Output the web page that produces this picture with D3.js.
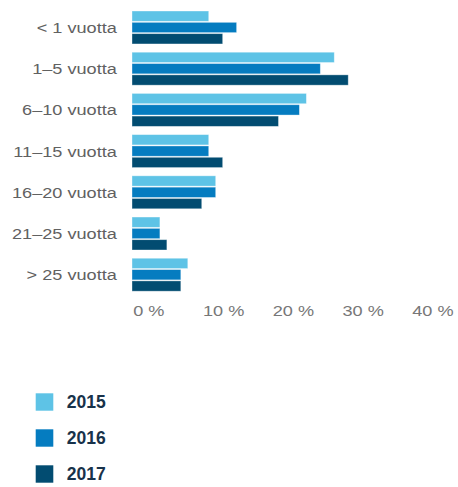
<!DOCTYPE html>
<html>
<head>
<meta charset="utf-8">
<script src="https://cdnjs.cloudflare.com/ajax/libs/d3/7.8.5/d3.min.js"></script>
<style>
  body { margin: 0; background: #fff; }
  svg { display: block; }
</style>
</head>
<body>
<svg id="chart"></svg>
<script>
// Työsuhteen kesto, osuus henkilöstöstä (%)
const categories = ["< 1 vuotta", "1–5 vuotta", "6–10 vuotta", "11–15 vuotta", "16–20 vuotta", "21–25 vuotta", "> 25 vuotta"];
const years = ["2015", "2016", "2017"];
const values2015 = [11, 29, 25, 11, 12, 4, 8];
const values2016 = [15, 27, 24, 11, 12, 4, 7];
const values2017 = [13, 31, 21, 13, 10, 5, 7];
const xTicks = [0, 10, 20, 30, 40];
const colors = ["#5ec3e6", "#057cc0", "#024c71"];

const width = 458, height = 487;
const margin = {top: 11, left: 132};
const stretch = 1.21; // the source font is set wide

// build rows for grouped bars
const data = categories.map((c, i) => ({
  group: c,
  "2015": values2015[i],
  "2016": values2016[i],
  "2017": values2017[i]
}));

const svg = d3.select("#chart")
  .attr("width", width)
  .attr("height", height);

// scales
const x = d3.scaleLinear()
  .domain([0, 40])
  .range([margin.left, margin.left + 279]);

const y = d3.scaleBand()
  .domain(categories)
  .range([margin.top, margin.top + 280.2])
  .paddingInner(0.2)
  .paddingOuter(0);

const ySub = d3.scaleBand()
  .domain(years)
  .range([0, y.bandwidth()])
  .paddingInner(0.09);

const color = d3.scaleOrdinal()
  .domain(years)
  .range(colors);

// bars
const groups = svg.append("g")
  .selectAll("g")
  .data(data)
  .enter().append("g")
    .attr("transform", d => `translate(0,${y(d.group)})`);

groups.selectAll("rect")
  .data(d => years.map(k => ({key: k, value: d[k]})))
  .enter().append("rect")
    .attr("x", x(0))
    .attr("y", d => ySub(d.key))
    .attr("width", d => x(d.value) - x(0))
    .attr("height", ySub.bandwidth())
    .attr("fill", d => color(d.key))
    .attr("stroke", "rgba(255,255,255,0.45)")
    .attr("stroke-width", 0.8);

// category labels
svg.append("g")
  .selectAll("text")
  .data(categories)
  .enter().append("text")
    .attr("transform", d => `translate(116.8,${y(d) + y.bandwidth() / 2 + 5.5}) scale(${stretch},1)`)
    .attr("text-anchor", "end")
    .attr("font-family", "Liberation Sans, Arial, sans-serif")
    .attr("font-size", 15)
    .attr("fill", "#616161")
    .text(d => d);

// x axis (no line, only labels)
const xAxis = svg.append("g")
  .attr("transform", "translate(0,316)")
  .call(d3.axisBottom(x).tickValues(xTicks).tickSize(0).tickFormat(d => d + " %"));
xAxis.select(".domain").remove();
xAxis.selectAll("text")
  .attr("y", 0)
  .attr("dy", 0)
  .attr("x", 0)
  .attr("transform", `translate(0.7,0) scale(${stretch},1)`)
  .attr("text-anchor", "start")
  .attr("font-family", "Liberation Sans, Arial, sans-serif")
  .attr("font-size", 15)
  .attr("fill", "#777");

// legend
const legend = svg.append("g")
  .selectAll("g")
  .data(years)
  .enter().append("g")
    .attr("transform", (d, i) => `translate(35.7,${393.3 + i * 36})`);

legend.append("rect")
  .attr("width", 17.6)
  .attr("height", 17.4)
  .attr("fill", d => color(d));

legend.append("text")
  .attr("x", 31)
  .attr("y", 14.5)
  .attr("font-family", "Liberation Sans, Arial, sans-serif")
  .attr("font-size", 17.5)
  .attr("font-weight", "bold")
  .attr("fill", "#18324a")
  .text(d => d);
</script>
</body>
</html>
